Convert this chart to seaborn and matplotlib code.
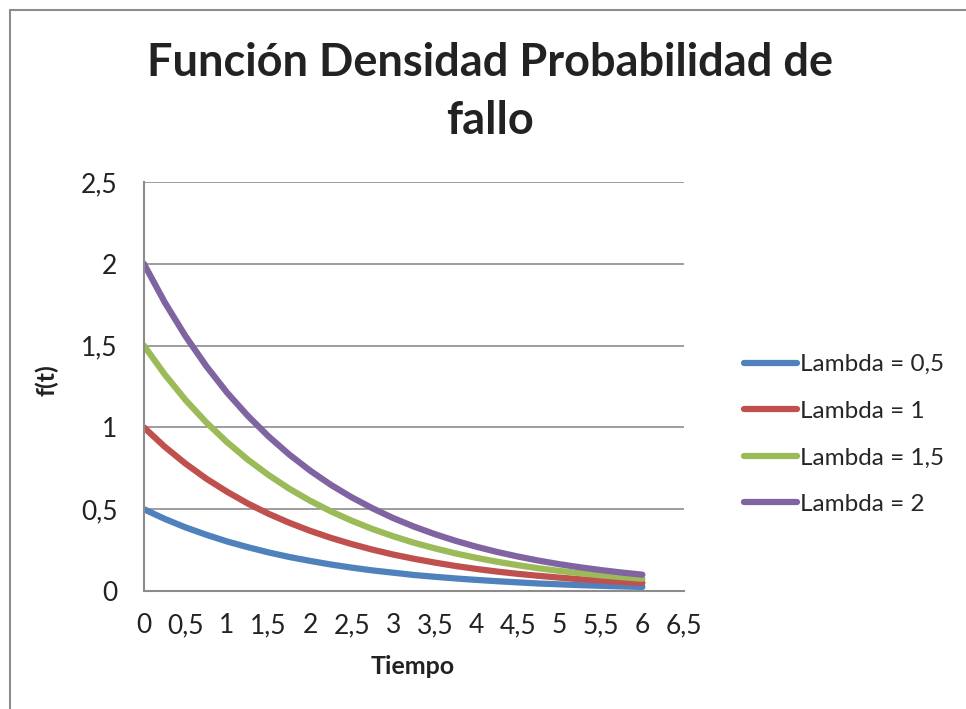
import pandas as pd
import numpy as np
import matplotlib.pyplot as plt
import seaborn as sns
from matplotlib.ticker import FuncFormatter, MultipleLocator
from matplotlib.lines import Line2D

# valores (cada 0,25)
tiempo = [0, 0.25, 0.5, 0.75, 1, 1.25, 1.5, 1.75, 2, 2.25, 2.5, 2.75, 3,
          3.25, 3.5, 3.75, 4, 4.25, 4.5, 4.75, 5, 5.25, 5.5, 5.75, 6]
lambda_05 = [0.500, 0.441, 0.389, 0.344, 0.303, 0.268, 0.236, 0.208, 0.184, 0.162, 0.143,
             0.126, 0.112, 0.098, 0.087, 0.077, 0.068, 0.060, 0.053, 0.046, 0.041, 0.036,
             0.032, 0.028, 0.025]
lambda_1 = [1.000, 0.882, 0.779, 0.687, 0.607, 0.535, 0.472, 0.417, 0.368, 0.325, 0.287,
            0.253, 0.223, 0.197, 0.174, 0.153, 0.135, 0.119, 0.105, 0.093, 0.082, 0.072,
            0.064, 0.056, 0.050]
lambda_15 = [1.500, 1.324, 1.168, 1.031, 0.910, 0.803, 0.709, 0.625, 0.552, 0.487, 0.430,
             0.379, 0.335, 0.295, 0.261, 0.230, 0.203, 0.179, 0.158, 0.139, 0.123, 0.109,
             0.096, 0.085, 0.075]
lambda_2 = [2.000, 1.765, 1.558, 1.375, 1.213, 1.071, 0.945, 0.834, 0.736, 0.649, 0.573,
            0.506, 0.446, 0.394, 0.348, 0.307, 0.271, 0.239, 0.211, 0.186, 0.164, 0.145,
            0.128, 0.113, 0.100]

series_names = ["Lambda = 0,5", "Lambda = 1", "Lambda = 1,5", "Lambda = 2"]
colores = ["#4F81BD", "#C0504D", "#9BBB59", "#8064A2"]

df = pd.concat([
    pd.DataFrame({"t": tiempo, "f": vals, "serie": name})
    for name, vals in zip(series_names, [lambda_05, lambda_1, lambda_15, lambda_2])
])

sns.set_style("white")
plt.rcParams["font.family"] = ["Lato", "DejaVu Sans"]

fig = plt.figure(figsize=(9.66, 7.09), dpi=100)
ax = fig.add_axes([0.149, 0.1664, 0.559, 0.5769])

sns.lineplot(data=df, x="t", y="f", hue="serie", palette=colores, ax=ax,
             linewidth=4.5, solid_capstyle="round", solid_joinstyle="round")

ax.set_xlim(0, 6.5)
ax.set_ylim(0, 2.5)
ax.xaxis.set_major_locator(MultipleLocator(0.5))
ax.yaxis.set_major_locator(MultipleLocator(0.5))
coma = FuncFormatter(lambda v, p: f"{v:g}".replace(".", ","))
ax.xaxis.set_major_formatter(coma)
ax.yaxis.set_major_formatter(coma)
ax.tick_params(axis="both", length=0, labelsize=19, colors="#222222")
ax.tick_params(axis="x", pad=16)
ax.tick_params(axis="y", pad=19)

ax.yaxis.grid(True, color="#8c8c8c", linewidth=1.2)
ax.xaxis.grid(False)
for side in ["top", "right"]:
    ax.spines[side].set_visible(False)
for side in ["left", "bottom"]:
    ax.spines[side].set_color("#8c8c8c")
    ax.spines[side].set_linewidth(1.5)

ax.set_xlabel("")
ax.set_ylabel("")
fig.text(413 / 966, 1 - 667 / 709, "Tiempo", ha="center", va="center",
         fontsize=18, fontweight="bold", color="#222222")
fig.text(47 / 966, 1 - 380 / 709, "f(t)", ha="center", va="center",
         fontsize=18, fontweight="bold", rotation=90, color="#222222")

fig.text(490 / 966, 1 - 92 / 709, "Función Densidad Probabilidad de\nfallo",
         ha="center", va="center", fontsize=32.5, fontweight="bold",
         color="#222222", linespacing=1.5)

handles, labels = ax.get_legend_handles_labels()
ax.legend(handles, labels, loc="center left", bbox_to_anchor=(0.758, 0.387),
          bbox_transform=fig.transFigure, frameon=False, fontsize=17.5,
          handlelength=2.15, handletextpad=0.15, labelspacing=1.05, borderpad=0)

# borde del área del gráfico
fig.add_artist(Line2D([10 / 966, 10 / 966], [0, 1 - 10 / 709],
                      transform=fig.transFigure, color="#8c8c8c", linewidth=1.5))
fig.add_artist(Line2D([10 / 966, 1], [1 - 10 / 709, 1 - 10 / 709],
                      transform=fig.transFigure, color="#8c8c8c", linewidth=1.5))

fig.savefig("out.png", dpi=100)
